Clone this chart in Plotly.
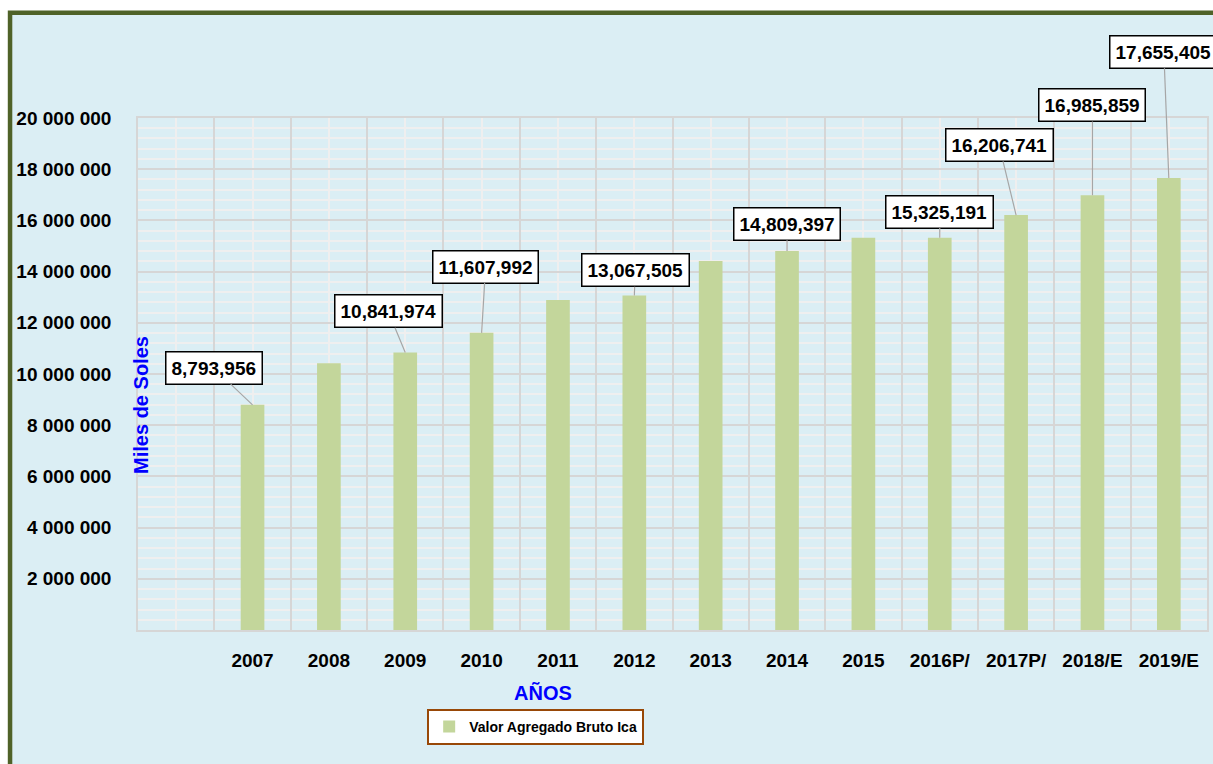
"""
    Valor Agregado Bruto Ica - bar chart
"""

import plotly.graph_objs as go

# Data
years = ["2007", "2008", "2009", "2010", "2011", "2012", "2013",
         "2014", "2015", "2016P/", "2017P/", "2018/E", "2019/E"]
values = [8793956, 10420000, 10841974, 11607992, 12890000, 13067505, 14410000,
          14809397, 15320000, 15325191, 16206741, 16985859, 17655405]
labelled_years = ["2007", "2009", "2010", "2012", "2014",
                  "2016P/", "2017P/", "2018/E", "2019/E"]
y_ticks = [0, 2000000, 4000000, 6000000, 8000000, 10000000,
           12000000, 14000000, 16000000, 18000000, 20000000]

# Label box offsets (pixels from the bar top)
label_offsets = {
    "2007": (-39, -37),
    "2009": (-17, -41),
    "2010": (4, -66),
    "2012": (1, -25),
    "2014": (0, -27),
    "2016P/": (0, -26),
    "2017P/": (-17, -70),
    "2018/E": (0, -90),
    "2019/E": (-5, -126),
}

FONT = "Liberation Sans, Arial, sans-serif"
BAR_COLOR = "#C3D69B"
MAJOR_GRID = "#D6D6D6"
MINOR_GRID = "#EFEFEF"
BOLD = {"family": FONT, "size": 19, "color": "black", "weight": "bold"}
BLUE = {"family": FONT, "size": 20, "color": "#0000FF", "weight": "bold"}

# first slot on the x axis is empty, as in the original sheet
xpos = list(range(1, len(years) + 1))
n_slots = len(years) + 1

data = [
    go.Bar(
        x=xpos,
        y=values,
        width=0.31,
        marker={"color": BAR_COLOR, "line": {"width": 0}},
        name="Valor Agregado Bruto Ica",
    ),
    # empty trace so the label axis (x2) gets drawn
    go.Scatter(x=[], y=[], xaxis="x2", showlegend=False, hoverinfo="skip"),
]

annotations = []
for year in labelled_years:
    i = years.index(year)
    ax, ay = label_offsets[year]
    annotations.append(
        dict(
            x=xpos[i], y=values[i], xref="x", yref="y",
            text=f"{values[i]:,}",
            showarrow=True, arrowhead=0, arrowwidth=1.2, arrowcolor="#A6A6A6",
            ax=ax, ay=ay, standoff=0,
            bgcolor="white", bordercolor="black", borderwidth=1.5, borderpad=5,
            font=BOLD,
        )
    )

# axis titles
annotations.append(
    dict(
        x=0.003, y=0.44, xref="paper", yref="paper", text="Miles de Soles",
        xanchor="center", yanchor="middle", textangle=-90, showarrow=False, font=BLUE,
    )
)
annotations.append(
    dict(
        x=0.379, y=-0.123, xref="paper", yref="paper", text="AÑOS",
        xanchor="center", yanchor="middle", showarrow=False, font=BLUE,
    )
)

layout = go.Layout(
    width=1213,
    height=764,
    margin={"l": 138, "r": 6, "t": 118, "b": 134, "autoexpand": False},
    paper_bgcolor="white",
    plot_bgcolor="rgba(0,0,0,0)",
    font=BOLD,
    showlegend=True,
    legend={
        "x": 0.372, "y": -0.154, "xanchor": "center", "yanchor": "top",
        "bgcolor": "white", "bordercolor": "#984807", "borderwidth": 2,
        "itemwidth": 30,
        "font": {"family": FONT, "size": 14, "color": "black", "weight": "bold"},
    },
    # grid axis: gray lines on the category boundaries, light ones at the centres
    xaxis={
        "range": [-0.5, n_slots - 0.5],
        "tickmode": "array",
        "tickvals": [k - 0.5 for k in range(n_slots + 1)],
        "showticklabels": False,
        "showgrid": True, "gridcolor": MAJOR_GRID, "gridwidth": 1.5,
        "minor": {
            "tickmode": "array",
            "tickvals": list(range(n_slots)),
            "showgrid": True, "gridcolor": MINOR_GRID, "gridwidth": 1.5,
        },
        "showline": True, "linecolor": MAJOR_GRID, "linewidth": 1.5, "mirror": True,
        "zeroline": False, "ticks": "",
    },
    # label axis
    xaxis2={
        "overlaying": "x", "matches": "x", "anchor": "y", "side": "bottom",
        "tickmode": "array",
        "tickvals": [0] + xpos,
        "ticktext": [""] + years,
        "showgrid": False, "showline": False, "zeroline": False,
        "ticks": "", "ticklabelstandoff": 17,
    },
    yaxis={
        "range": [0, 20000000],
        "tickmode": "array",
        "tickvals": y_ticks,
        "ticktext": [""] + [f"{v:,}".replace(",", " ") for v in y_ticks[1:]],
        "showgrid": True, "gridcolor": MAJOR_GRID, "gridwidth": 1.5,
        "minor": {
            "tickmode": "linear", "tick0": 0, "dtick": 400000,
            "showgrid": True, "gridcolor": MINOR_GRID, "gridwidth": 1.5,
        },
        "showline": True, "linecolor": MAJOR_GRID, "linewidth": 1.5, "mirror": True,
        "zeroline": False,
        "ticks": "", "ticklabelstandoff": 21,
    },
    shapes=[
        dict(
            type="rect", xref="paper", yref="paper",
            x0=-0.1197, x1=1.1, y0=-0.5, y1=1.2057,
            line={"color": "#4F6228", "width": 4.5},
            fillcolor="#DBEEF4", layer="below",
        )
    ],
    annotations=annotations,
)

fig = go.Figure(data=data, layout=layout)
fig.write_html(
    "out.html",
    config={"displayModeBar": False},
    post_script="document.body.style.margin='0';document.body.style.overflow='hidden';",
)
